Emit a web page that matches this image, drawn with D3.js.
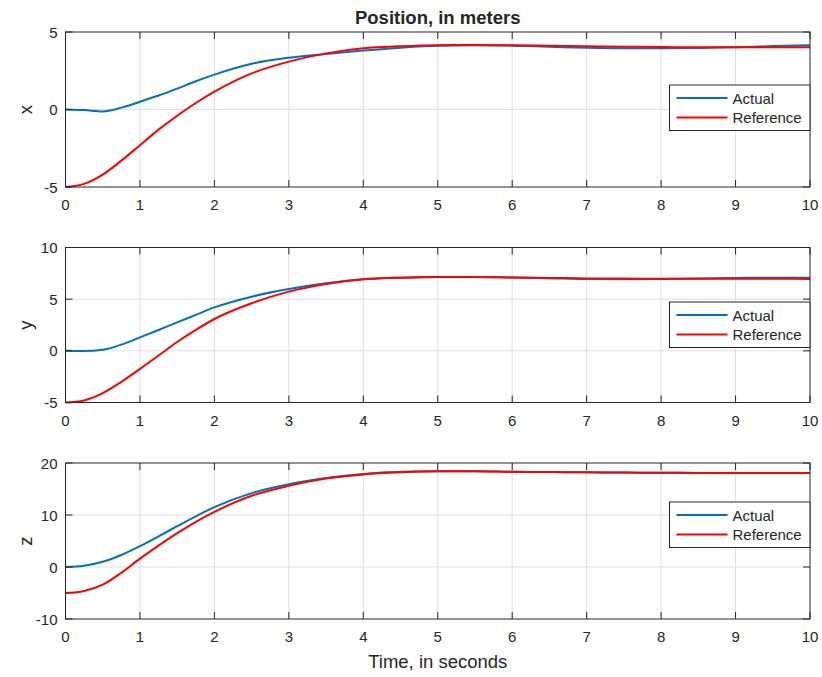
<!DOCTYPE html>
<html>
<head>
<meta charset="utf-8">
<script src="https://cdn.jsdelivr.net/npm/d3@7"></script>
<style>
  body { margin: 0; background: #fff; }
  svg { display: block; }
  text { font-family: "Liberation Sans", Arial, Helvetica, sans-serif; fill: #262626; }
</style>
</head>
<body>
<div id="chart"></div>
<script>
// ===== Data =====
const T = [0, 0.25, 0.5, 0.75, 1, 1.25, 1.5, 1.75, 2, 2.5, 3, 3.5, 4, 4.5, 5, 5.5, 6, 6.5, 7, 7.5, 8, 8.5, 9, 9.5, 10];

const actualX = [0, -0.04, -0.13, 0.12, 0.5, 0.9, 1.35, 1.82, 2.25, 2.95, 3.34, 3.58, 3.8, 3.99, 4.12, 4.15, 4.12, 4.05, 3.98, 3.95, 3.95, 3.97, 4.02, 4.09, 4.14];
const refX    = [-5, -4.8, -4.2, -3.3, -2.3, -1.3, -0.4, 0.42, 1.15, 2.33, 3.09, 3.62, 3.95, 4.08, 4.15, 4.16, 4.14, 4.11, 4.08, 4.05, 4.03, 4.02, 4.02, 4.02, 4.02];

const actualY = [0, -0.02, 0.1, 0.6, 1.3, 2.02, 2.76, 3.48, 4.2, 5.24, 5.98, 6.53, 6.92, 7.08, 7.14, 7.14, 7.1, 7.03, 6.95, 6.93, 6.95, 7.0, 7.05, 7.08, 7.08];
const refY    = [-5, -4.8, -4.1, -3.0, -1.75, -0.45, 0.85, 2.02, 3.08, 4.6, 5.73, 6.47, 6.92, 7.08, 7.14, 7.14, 7.1, 7.06, 7.01, 6.99, 6.98, 6.98, 6.98, 6.97, 6.96];

const actualZ = [0, 0.25, 1.0, 2.3, 4.0, 5.9, 7.85, 9.75, 11.5, 14.2, 15.9, 17.1, 17.9, 18.3, 18.4, 18.4, 18.3, 18.25, 18.2, 18.15, 18.12, 18.1, 18.1, 18.1, 18.1];
const refZ    = [-5, -4.6, -3.4, -1.1, 1.6, 4.1, 6.5, 8.7, 10.6, 13.7, 15.6, 17.0, 17.8, 18.2, 18.4, 18.4, 18.3, 18.25, 18.2, 18.15, 18.12, 18.1, 18.1, 18.1, 18.1];

const xTicks = [0, 1, 2, 3, 4, 5, 6, 7, 8, 9, 10];
const yTicksX = [-5, 0, 5];
const yTicksY = [-5, 0, 5, 10];
const yTicksZ = [-10, 0, 10, 20];

const seriesNames = ["Actual", "Reference"];
const seriesColors = ["#0072BD", "#FF0000"];

const titleText = "Position, in meters";
const xLabelText = "Time, in seconds";

// ===== Layout =====
const W = 822, H = 677;
const L = 65.5, R = 810;
const panels = [
  { top: 32,    bottom: 187,   ylab: "x", yDomain: [-5, 5],   yTicks: yTicksX, a: actualX, r: refX, legTop: 85 },
  { top: 247.5, bottom: 402.5, ylab: "y", yDomain: [-5, 10],  yTicks: yTicksY, a: actualY, r: refY, legTop: 302 },
  { top: 463,   bottom: 619,   ylab: "z", yDomain: [-10, 20], yTicks: yTicksZ, a: actualZ, r: refZ, legTop: 502 },
];
const TICK = 7;

const svg = d3.select("#chart").append("svg")
  .attr("width", W).attr("height", H)
  .attr("viewBox", `0 0 ${W} ${H}`);

const x = d3.scaleLinear().domain([0, 10]).range([L, R]);

panels.forEach(p => {
  const y = d3.scaleLinear().domain(p.yDomain).range([p.bottom, p.top]);
  const g = svg.append("g");

  // grid
  g.append("g").selectAll("line")
    .data(xTicks.slice(1, -1))
    .enter().append("line")
    .attr("x1", d => x(d)).attr("x2", d => x(d))
    .attr("y1", p.top).attr("y2", p.bottom)
    .attr("stroke", "#dfdfdf").attr("stroke-width", 1);

  g.append("g").selectAll("line")
    .data(p.yTicks.slice(1, -1))
    .enter().append("line")
    .attr("x1", L).attr("x2", R)
    .attr("y1", d => y(d)).attr("y2", d => y(d))
    .attr("stroke", "#dfdfdf").attr("stroke-width", 1);

  // lines
  const line = d3.line()
    .x((d, i) => x(T[i]))
    .y(d => y(d))
    .curve(d3.curveMonotoneX);

  [p.a, p.r].forEach((vals, si) => {
    g.append("path")
      .datum(vals)
      .attr("fill", "none")
      .attr("stroke", seriesColors[si])
      .attr("stroke-width", 2)
      .attr("d", line);
  });

  // box
  g.append("rect")
    .attr("x", L).attr("y", p.top)
    .attr("width", R - L).attr("height", p.bottom - p.top)
    .attr("fill", "none").attr("stroke", "#262626").attr("stroke-width", 1);

  // ticks (inward, all four sides)
  const tk = g.append("g").attr("stroke", "#262626").attr("stroke-width", 1);
  xTicks.forEach(t => {
    tk.append("line").attr("x1", x(t)).attr("x2", x(t)).attr("y1", p.bottom).attr("y2", p.bottom - TICK);
    tk.append("line").attr("x1", x(t)).attr("x2", x(t)).attr("y1", p.top).attr("y2", p.top + TICK);
  });
  p.yTicks.forEach(t => {
    tk.append("line").attr("x1", L).attr("x2", L + TICK).attr("y1", y(t)).attr("y2", y(t));
    tk.append("line").attr("x1", R).attr("x2", R - TICK).attr("y1", y(t)).attr("y2", y(t));
  });

  // tick labels
  g.append("g").selectAll("text")
    .data(xTicks)
    .enter().append("text")
    .attr("x", d => x(d))
    .attr("y", p.bottom + 23)
    .attr("text-anchor", "middle")
    .style("font-size", "15px")
    .text(d => d);

  g.append("g").selectAll("text")
    .data(p.yTicks)
    .enter().append("text")
    .attr("x", L - 8)
    .attr("y", d => y(d) + 5.5)
    .attr("text-anchor", "end")
    .style("font-size", "15px")
    .text(d => d);

  // y label
  g.append("text")
    .attr("transform", `translate(32,${(p.top + p.bottom) / 2}) rotate(-90)`)
    .attr("text-anchor", "middle")
    .style("font-size", "18.5px")
    .text(p.ylab);

  // legend
  const lx = 669.5, lw = R - lx, lh = 45.5;
  const leg = g.append("g").attr("transform", `translate(${lx},${p.legTop})`);
  leg.append("rect")
    .attr("width", lw).attr("height", lh)
    .attr("fill", "#fff").attr("stroke", "#262626").attr("stroke-width", 1);
  seriesNames.forEach((name, si) => {
    const cy = 13 + si * 19.5;
    leg.append("line")
      .attr("x1", 7).attr("x2", 58)
      .attr("y1", cy).attr("y2", cy)
      .attr("stroke", seriesColors[si]).attr("stroke-width", 2);
    leg.append("text")
      .attr("x", 63).attr("y", cy + 5.5)
      .style("font-size", "15px")
      .text(name);
  });
});

// title & x label
svg.append("text")
  .attr("x", (L + R) / 2).attr("y", 24)
  .attr("text-anchor", "middle")
  .style("font-size", "18.5px")
  .style("font-weight", "bold")
  .text(titleText);

svg.append("text")
  .attr("x", (L + R) / 2).attr("y", 668)
  .attr("text-anchor", "middle")
  .style("font-size", "18.5px")
  .text(xLabelText);
</script>
</body>
</html>
